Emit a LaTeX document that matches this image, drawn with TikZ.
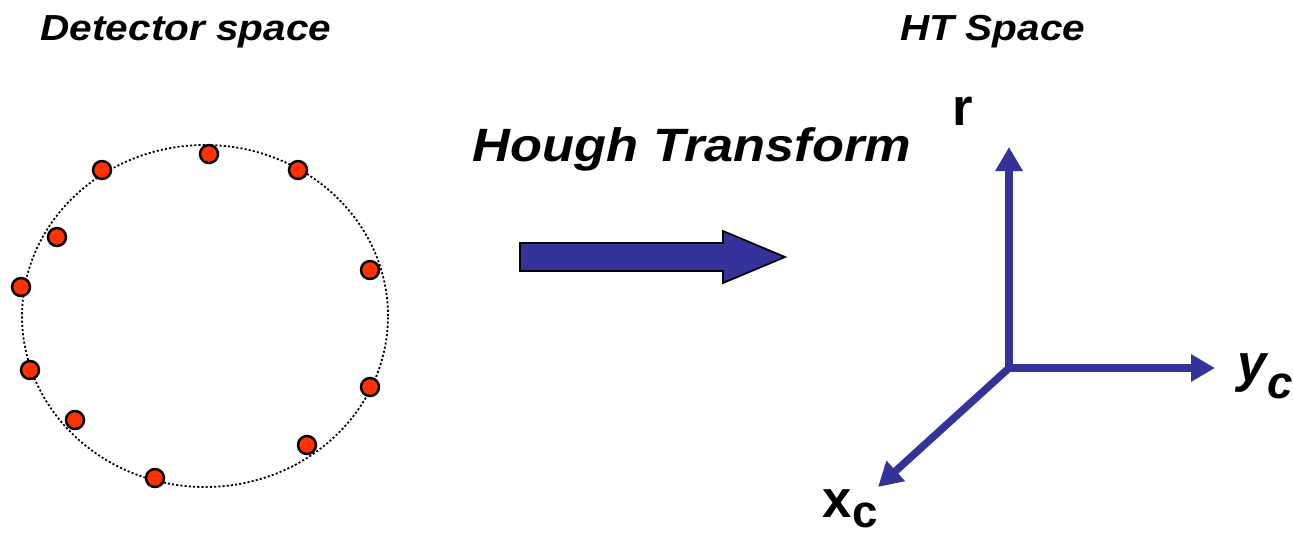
\documentclass[tikz,border=0pt]{standalone}
\usepackage{fontspec}
\setmainfont{Liberation Sans}
\newfontfamily\anchofont[FakeStretch=1.12]{Liberation Sans}
\usetikzlibrary{positioning}
\usetikzlibrary{arrows.meta}
\definecolor{houghAzul}{RGB}{51,51,153}
\definecolor{houghRojo}{RGB}{255,51,0}
\tikzset{
  punto/.style={
    circle, draw=black, line width=0.7pt, fill=houghRojo,
    minimum size=0.18cm, inner sep=0pt
  },
  eje/.style={-{Triangle[length=0.24cm, width=0.26cm]}, line width=0.075cm, draw=houghAzul},
  titulo/.style={anchor=base, inner sep=0pt, font=\anchofont\bfseries\itshape\fontsize{10.3pt}{12pt}\selectfont},
  titulog/.style={anchor=base, inner sep=0pt, font=\anchofont\bfseries\itshape\fontsize{13.3pt}{15pt}\selectfont},
  etiqueta/.style={inner sep=0pt, font=\bfseries\fontsize{15pt}{17pt}\selectfont}
}
\begin{document}
\begin{tikzpicture}
  \useasboundingbox (0,0) rectangle (12.93,5.33);

  % espacio del detector
  \node[titulo] (detector) at (1.86,4.93) {Detector space};
  \draw[line width=0.5pt, dash pattern=on 0.6pt off 0.6pt] (2.05,2.17) ellipse [x radius=1.83, y radius=1.71];
  \node[punto] (p1) at (2.09,3.79) {};
  \node[punto] (p2) at (1.02,3.63) {};
  \node[punto] (p3) at (2.98,3.63) {};
  \node[punto] (p4) at (0.57,2.96) {};
  \node[punto] (p5) at (3.70,2.63) {};
  \node[punto] (p6) at (0.21,2.46) {};
  \node[punto] (p7) at (0.30,1.63) {};
  \node[punto] (p8) at (3.70,1.46) {};
  \node[punto] (p9) at (0.75,1.13) {};
  \node[punto] (p10) at (3.07,0.88) {};
  \node[punto] (p11) at (1.55,0.55) {};

  % transformada
  \node[titulog] (hough) at (6.92,3.72) {Hough Transform};
  \draw[line width=0.5pt, draw=black, fill=houghAzul, line join=miter]
    (5.20,2.90) -- (7.23,2.90) -- (7.23,3.02) -- (7.85,2.76) -- (7.23,2.50) -- (7.23,2.62) -- (5.20,2.62) -- cycle;

  % espacio HT
  \node[titulo] (ht) at (9.93,4.93) {HT Space};
  \coordinate (origen) at (10.09,1.65);
  \coordinate (finr) at (10.09,3.86);
  \coordinate (finy) at (12.15,1.65);
  \coordinate (finx) at (8.78,0.46);
  \draw[eje] (origen) -- (finr);
  \draw[eje] (origen) -- (finy);
  \draw[eje, shorten <=-0.03cm] (origen) -- (finx);
  \node[etiqueta, anchor=base] (labr) at (9.63,4.08) {r};
  \node[etiqueta, anchor=base west] (laby) at (12.37,1.52) {\itshape y\raisebox{-0.33em}{\fontsize{13pt}{15pt}\selectfont c}};
  \node[etiqueta, anchor=base west] (labx) at (8.22,0.16) {x\raisebox{-0.2em}{\fontsize{13pt}{15pt}\selectfont c}};
\end{tikzpicture}
\end{document}
